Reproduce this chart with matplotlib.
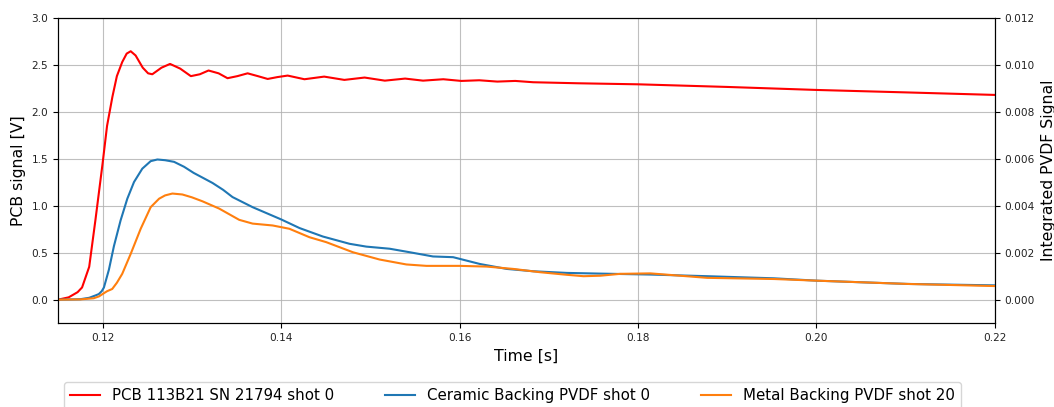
import matplotlib
matplotlib.use("Agg")
import matplotlib.pyplot as plt

# PCB pressure sensor signal [V] (left axis)
pcb_t = [0.1150, 0.1162, 0.1172, 0.1177, 0.1185, 0.1192, 0.1200, 0.1205, 0.1211,
         0.1216, 0.1222, 0.1227, 0.12315, 0.1237, 0.1245, 0.1251, 0.12557, 0.1266,
         0.12756, 0.1287, 0.12989, 0.1309, 0.13187, 0.1330, 0.13400, 0.1351,
         0.13625, 0.1374, 0.13850, 0.1396, 0.14074, 0.14262, 0.14483, 0.14709,
         0.14936, 0.15163, 0.1539, 0.15591, 0.15818, 0.1602, 0.16221, 0.16423,
         0.16624, 0.16826, 0.1733, 0.18, 0.19, 0.20, 0.21, 0.22]
pcb_v = [0.0, 0.025, 0.08, 0.13, 0.35, 0.85, 1.45, 1.85, 2.16,
         2.38, 2.53, 2.62, 2.645, 2.60, 2.47, 2.41, 2.40, 2.47,
         2.51, 2.46, 2.38, 2.40, 2.44, 2.41, 2.358, 2.38,
         2.41, 2.38, 2.35, 2.37, 2.386, 2.347, 2.375, 2.34,
         2.365, 2.332, 2.354, 2.332, 2.347, 2.329, 2.336, 2.322,
         2.329, 2.315, 2.304, 2.293, 2.265, 2.233, 2.207, 2.18]

# Integrated PVDF signals (right axis)
ceramic_t = [0.1150, 0.1175, 0.1185, 0.1192, 0.11958, 0.1199, 0.12015, 0.12071,
             0.12127, 0.12202, 0.12277, 0.12352, 0.12445, 0.12539, 0.12614, 0.1270,
             0.12801, 0.12913, 0.1302, 0.13119, 0.13232, 0.1335, 0.13456, 0.13681,
             0.14, 0.14207, 0.14468, 0.14767, 0.14955, 0.15217, 0.15442, 0.15703,
             0.15928, 0.16228, 0.16528, 0.16827, 0.17202, 0.17577, 0.18138, 0.18775,
             0.19524, 0.20, 0.21022, 0.22]
ceramic_v = [0.0, 0.00002, 0.00008, 0.00018, 0.00024, 0.00036, 0.00052, 0.00128,
             0.00228, 0.00338, 0.0043, 0.00501, 0.00558, 0.0059, 0.00597, 0.00594,
             0.00587, 0.00566, 0.0054, 0.0052, 0.00497, 0.00468, 0.00437, 0.00394,
             0.00342, 0.00305, 0.00269, 0.00238, 0.00226, 0.00217, 0.00202, 0.00184,
             0.00181, 0.00152, 0.00131, 0.00121, 0.00114, 0.00111, 0.00107, 0.001,
             0.00091, 0.00081, 0.00067, 0.00061]

metal_t = [0.1150, 0.1175, 0.1190, 0.1196, 0.1200, 0.1205, 0.12108, 0.1216,
           0.1222, 0.12315, 0.12427, 0.12539, 0.12633, 0.1270, 0.12782, 0.12894,
           0.1300, 0.13119, 0.13306, 0.13531, 0.13681, 0.13906, 0.14093, 0.14318,
           0.14506, 0.14805, 0.15104, 0.15404, 0.15629, 0.16003, 0.16303, 0.16602,
           0.16902, 0.17202, 0.17389, 0.17577, 0.17801, 0.18138, 0.18775, 0.19524,
           0.20, 0.21022, 0.22]
metal_v = [0.0, 0.000012, 0.00006, 0.00014, 0.00024, 0.00036, 0.000456, 0.00072,
           0.0011, 0.00195, 0.00302, 0.00394, 0.0043, 0.00444, 0.00452, 0.00448,
           0.00436, 0.00419, 0.00388, 0.0034, 0.00324, 0.00316, 0.00302, 0.00266,
           0.00245, 0.00202, 0.00171, 0.0015, 0.00144, 0.00144, 0.00141, 0.00131,
           0.00117, 0.00106, 0.001, 0.00102, 0.0011, 0.00112, 0.00093, 0.00088,
           0.00081, 0.00067, 0.00058]

fig = plt.figure(figsize=(10.54, 4.07), dpi=100)
ax = fig.add_axes([0.055, 0.206, 0.889, 0.750])
ax2 = ax.twinx()

l1, = ax.plot(pcb_t, pcb_v, color='red', lw=1.5, label='PCB 113B21 SN 21794 shot 0')
l2, = ax2.plot(ceramic_t, ceramic_v, color='#1f77b4', lw=1.5, label='Ceramic Backing PVDF shot 0')
l3, = ax2.plot(metal_t, metal_v, color='#ff7f0e', lw=1.5, label='Metal Backing PVDF shot 20')

ax.set_xlim(0.115, 0.22)
ax.set_ylim(-0.25, 3.0)
ax2.set_ylim(-0.001, 0.012)
ax.set_xticks([0.12, 0.14, 0.16, 0.18, 0.20, 0.22])
ax.set_yticks([0.0, 0.5, 1.0, 1.5, 2.0, 2.5, 3.0])
ax2.set_yticks([0.0, 0.002, 0.004, 0.006, 0.008, 0.010, 0.012])
ax2.set_yticklabels(['0.000', '0.002', '0.004', '0.006', '0.008', '0.010', '0.012'])
ax.grid(True, color='#b0b0b0', lw=0.8, alpha=0.8)

ax.set_xlabel('Time [s]', fontsize=11.3)
ax.set_ylabel('PCB signal [V]', fontsize=11.3)
ax2.set_ylabel('Integrated PVDF Signal', fontsize=11.3)
ax.tick_params(labelsize=7.6, labelcolor='#222222')
ax2.tick_params(labelsize=7.6, labelcolor='#222222')

fig.legend(handles=[l1, l2, l3], loc='upper center', bbox_to_anchor=(0.486, 0.080),
           ncol=3, fontsize=10.8, frameon=True, columnspacing=3.4)

fig.savefig('out.png', dpi=100)
